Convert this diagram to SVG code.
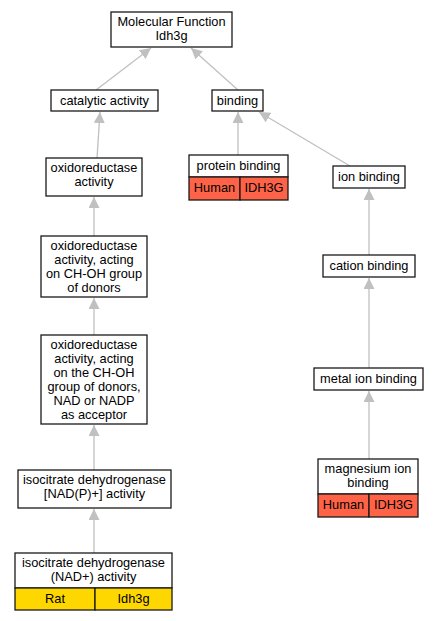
<svg xmlns="http://www.w3.org/2000/svg" width="437" height="621" viewBox="0 0 437 621">
<defs>
<style>
.n{fill:#fff;stroke:#1a1a1a;stroke-width:1.3}
.h{fill:#ff6347;stroke:#1a1a1a;stroke-width:1.3}
.y{fill:#ffd700;stroke:#1a1a1a;stroke-width:1.3}
text{font-family:"Liberation Sans",Arial,sans-serif;font-size:12.8px;text-anchor:middle;fill:#000}
.e{stroke:#c0c0c0;stroke-width:1.3;fill:none;marker-end:url(#a)}
</style>
<marker id="a" markerWidth="12" markerHeight="12" refX="11" refY="5.5" orient="auto" markerUnits="userSpaceOnUse">
<path d="M0,0 L11,5.5 L0,11 Z" fill="#c0c0c0"/>
</marker>
</defs>
<rect width="437" height="621" fill="#fff"/>
<g id="edges">
<path class="e" d="M96,90 L151,48"/>
<path class="e" d="M238,90 L191,48"/>
<path class="e" d="M97,158 L100,112"/>
<path class="e" d="M238,155 L238,112"/>
<path class="e" d="M350,166 L259,112"/>
<path class="e" d="M369,255 L369,189"/>
<path class="e" d="M369,368 L369,278"/>
<path class="e" d="M369,459 L369,391"/>
<path class="e" d="M94,236 L94,197"/>
<path class="e" d="M94,335 L94,298"/>
<path class="e" d="M94,470 L94,425"/>
<path class="e" d="M94,553 L94,509"/>
</g>
<g id="mf"><rect class="n" x="111" y="12" width="121" height="35"/><text x="171.5" y="26">Molecular Function</text><text x="171.5" y="40">Idh3g</text></g>
<g id="catalytic"><rect class="n" x="51" y="90" width="107" height="21"/><text x="104.5" y="105">catalytic activity</text></g>
<g id="binding"><rect class="n" x="212" y="90" width="51" height="21"/><text x="237.5" y="105">binding</text></g>
<g id="oxido"><rect class="n" x="46" y="158" width="96" height="38"/><text x="94" y="172">oxidoreductase</text><text x="94" y="186">activity</text></g>
<g id="protein"><rect class="n" x="189" y="155" width="99" height="22"/><text x="238.5" y="170">protein binding</text><rect class="h" x="189" y="177" width="51" height="23"/><rect class="h" x="240" y="177" width="48" height="23"/><text x="214.5" y="192">Human</text><text x="264" y="192">IDH3G</text></g>
<g id="ion"><rect class="n" x="333" y="166" width="72" height="22"/><text x="369" y="181">ion binding</text></g>
<g id="chOH"><rect class="n" x="41" y="236" width="106" height="61"/><text x="94" y="250">oxidoreductase</text><text x="94" y="264">activity, acting</text><text x="94" y="278">on CH-OH group</text><text x="94" y="292">of donors</text></g>
<g id="cation"><rect class="n" x="323" y="255" width="92" height="22"/><text x="369" y="270">cation binding</text></g>
<g id="nad"><rect class="n" x="41" y="335" width="106" height="89"/><text x="94" y="349">oxidoreductase</text><text x="94" y="363">activity, acting</text><text x="94" y="377">on the CH-OH</text><text x="94" y="391">group of donors,</text><text x="94" y="405">NAD or NADP</text><text x="94" y="419">as acceptor</text></g>
<g id="metal"><rect class="n" x="314" y="368" width="109" height="22"/><text x="368.5" y="383">metal ion binding</text></g>
<g id="mg"><rect class="n" x="318" y="459" width="100" height="35"/><text x="368" y="473">magnesium ion</text><text x="368" y="487">binding</text><rect class="h" x="318" y="494" width="51" height="23"/><rect class="h" x="369" y="494" width="49" height="23"/><text x="343.5" y="509">Human</text><text x="393.5" y="509">IDH3G</text></g>
<g id="icdNADP"><rect class="n" x="18" y="470" width="153" height="38"/><text x="94.5" y="484">isocitrate dehydrogenase</text><text x="94.5" y="498">[NAD(P)+] activity</text></g>
<g id="icdNAD"><rect class="n" x="15" y="553" width="157" height="35"/><text x="93.5" y="567">isocitrate dehydrogenase</text><text x="93.5" y="581">(NAD+) activity</text><rect class="y" x="15" y="588" width="80" height="22"/><rect class="y" x="95" y="588" width="77" height="22"/><text x="55" y="603">Rat</text><text x="133.5" y="603">Idh3g</text></g>
</svg>
